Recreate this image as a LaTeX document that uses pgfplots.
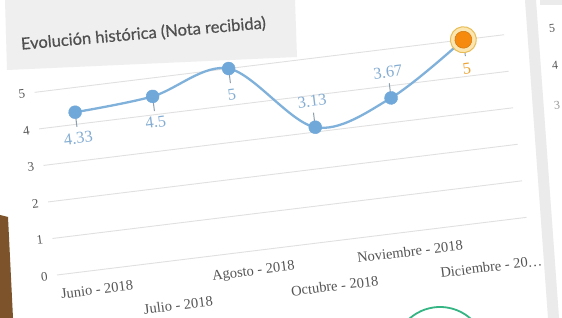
\documentclass[border=0pt]{standalone}
\usepackage{pgfplots}
\pgfplotsset{compat=1.18}
\usepackage{fontspec}
\setmainfont{Liberation Serif}
\newfontfamily\titlefont[FakeBold=0.5]{Lato}
\definecolor{bgc}{HTML}{E9E9E9}
\definecolor{stripc}{HTML}{EBEBEB}
\definecolor{titlebg}{HTML}{EFEFEF}
\definecolor{titlec}{HTML}{505050}
\definecolor{gridc}{HTML}{E0E0E0}
\definecolor{linec}{HTML}{80B1DB}
\definecolor{markc}{HTML}{70A8DA}
\definecolor{labc}{HTML}{84ADD3}
\definecolor{tickc}{HTML}{555555}
\definecolor{orangec}{HTML}{F58A0F}
\definecolor{ringc}{HTML}{FBE6B2}
\definecolor{ringedge}{HTML}{E8BD55}
\definecolor{orangelab}{HTML}{EDA435}
\definecolor{stemc}{HTML}{8C9FB0}
\definecolor{greenc}{HTML}{35B583}
\begin{document}
\begin{tikzpicture}[x=1pt,y=1pt]
\useasboundingbox (0,0) rectangle (562,318);
\fill[white] (0,0) rectangle (562,318);
\fill[stripc] (525,318) -- (536,318) -- (559,0) -- (548,0) -- cycle;
\fill[stripc] (540,313) rectangle (562,318);
\fill[brown!65!black] (0,0) -- (13,0) -- (8,101) -- (0,103) -- cycle;
\node[font=\fontsize{12}{14}\selectfont, text=tickc, rotate=5] at (552,290) {5};
\node[font=\fontsize{12}{14}\selectfont, text=tickc, rotate=5] at (555,253) {4};
\node[font=\fontsize{12}{14}\selectfont, text=tickc!60, rotate=5] at (557,213) {3};
\draw[greenc, line width=1.8pt] (440,-35) ++(38:46) arc (38:142:46);
\fill[titlebg] (7,248) -- (297,261) -- (295,318) -- (5,318) -- cycle;
\node[anchor=base west, rotate=5, font=\titlefont\fontsize{16.5}{18}\selectfont, text=titlec] at (18,268) {Evolución histórica (Nota recibida)};
\begin{scope}[rotate around={7:(57,43)}, transform shape]
\begin{axis}[
  at={(57pt,227pt)}, anchor=north west, scale only axis,
  width=473pt, height=184pt,
  xmin=-0.48, xmax=5.52, ymin=0, ymax=5,
  clip=false,
  axis line style={draw=none},
  ymajorgrids, grid style={gridc, line width=0.9pt},
  major tick length=0pt,
  ytick={0,1,2,3,4,5},
  /pgf/number format/assume math mode=true,
  yticklabel style={font=\fontsize{13}{15}\selectfont, text=tickc, xshift=-6pt},
  xtick={0,2,4},
  xticklabels={Junio - 2018, Agosto - 2018, Noviembre - 2018},
  extra x ticks={1,3,5},
  extra x tick labels={Julio - 2018, Octubre - 2018, Diciembre - 20…},
  extra x tick style={xticklabel style={yshift=-25pt}},
  xticklabel style={font=\fontsize{14.5}{16}\selectfont, text=tickc, yshift=-11pt},
]
\addplot[smooth, tension=0.55, color=linec, line width=2.3pt,
  mark=*, mark size=6.5pt, mark options={fill=markc, draw=markc, line width=0.4pt, solid},
  point meta=explicit symbolic,
  nodes near coords,
  visualization depends on={\thisrow{d}\as\dir},
  every node near coord/.append style={anchor=center, yshift=\dir*26pt, text=labc, font=\fontsize{16.5}{18}\selectfont},
  error bars/.cd, y dir=both, y explicit, error mark=none,
  error bar style={stemc, line width=1pt, solid}]
table[x=x, y=y, meta=lab, y error plus=ep, y error minus=em] {
x y lab d ep em
0 4.33 4.33 -1 0 0.4
1 4.5 4.5 -1 0 0.4
2 5 5 -1 0 0.4
3 3.13 3.13 1 0.4 0
4 3.67 3.67 1 0.4 0
5 5 {} -1 0 0.45
};
\addplot[only marks, mark=*, mark size=13pt,
  mark options={fill=ringc, draw=ringedge, line width=1pt}]
coordinates {(5,5)};
\addplot[only marks, mark=*, mark size=8.5pt,
  mark options={fill=orangec, draw=orangec!85!black, line width=0.5pt},
  nodes near coords={5},
  every node near coord/.append style={anchor=center, yshift=-29pt, text=orangelab, font=\fontsize{16.5}{18}\selectfont}]
coordinates {(5,5)};
\end{axis}
\end{scope}
\end{tikzpicture}
\end{document}
